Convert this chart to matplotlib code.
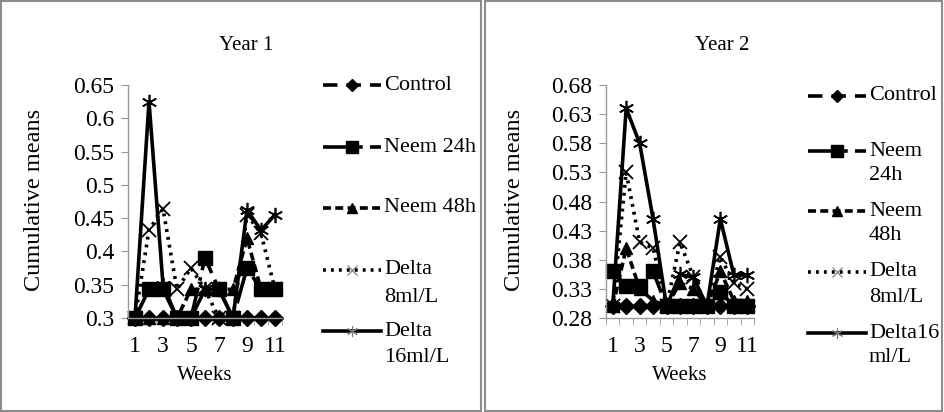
import matplotlib
matplotlib.use('Agg')
import matplotlib.pyplot as plt
from matplotlib.lines import Line2D
from matplotlib.patches import Rectangle

plt.rcParams['font.family'] = 'Liberation Serif'
plt.rcParams['font.size'] = 14

# data
weeks = [1, 2, 3, 4, 5, 6, 7, 8, 9, 10, 11]
week_labels = ['1', '3', '5', '7', '9', '11']
series = ['Control', 'Neem 24h', 'Neem 48h', 'Delta 8ml/L', 'Delta 16ml/L']
legend1 = [['Control'], ['Neem 24h'], ['Neem 48h'], ['Delta', '8ml/L'], ['Delta', '16ml/L']]
legend2 = [['Control'], ['Neem', '24h'], ['Neem', '48h'], ['Delta', '8ml/L'], ['Delta16', 'ml/L']]

y1_control = [0.3, 0.3, 0.3, 0.3, 0.3, 0.3, 0.3, 0.3, 0.3, 0.3, 0.3]
y1_neem24 = [0.3, 0.343, 0.343, 0.3, 0.3, 0.39, 0.343, 0.3, 0.375, 0.343, 0.343]
y1_neem48 = [0.3, 0.3, 0.3, 0.3, 0.343, 0.343, 0.343, 0.343, 0.42, 0.343, 0.343]
y1_delta8 = [0.3, 0.432, 0.464, 0.343, 0.375, 0.343, 0.3, 0.3, 0.455, 0.427, 0.343]
y1_delta16 = [0.3, 0.625, 0.35, 0.3, 0.3, 0.343, 0.343, 0.3, 0.462, 0.432, 0.455]

y2_control = [0.3, 0.3, 0.3, 0.3, 0.3, 0.3, 0.3, 0.3, 0.3, 0.3, 0.3]
y2_neem24 = [0.36, 0.335, 0.335, 0.36, 0.3, 0.3, 0.3, 0.3, 0.325, 0.3, 0.3]
y2_neem48 = [0.3, 0.40, 0.33, 0.31, 0.3, 0.34, 0.33, 0.3, 0.36, 0.31, 0.31]
y2_delta8 = [0.3, 0.53, 0.41, 0.40, 0.3, 0.41, 0.35, 0.3, 0.385, 0.34, 0.33]
y2_delta16 = [0.3, 0.64, 0.58, 0.45, 0.3, 0.355, 0.35, 0.3, 0.45, 0.354, 0.354]

yticks1 = [0.3, 0.35, 0.4, 0.45, 0.5, 0.55, 0.6, 0.65]
yticks2 = [0.28, 0.33, 0.38, 0.43, 0.48, 0.53, 0.58, 0.63, 0.68]

styles = [
    dict(ls=(0, (4, 2.5)), marker='D', ms=8),
    dict(ls=(0, (8, 2, 1, 2)), marker='s', ms=10),
    dict(ls=(0, (2.2, 1.2)), marker='^', ms=9),
    dict(ls=(0, (0.8, 1.4)), marker='x', ms=10, mew=1.3),
    dict(ls='-', marker=(6, 2, 0), ms=11, mew=1.2),
]
# legend keys: smaller markers, the two Delta ones thin and grey
leg_marker = [
    dict(ms=6, mec='black', mfc='black'),
    dict(ms=8, mec='black', mfc='black'),
    dict(ms=7, mec='black', mfc='black'),
    dict(ms=7, mec='#777777', mew=0.8),
    dict(ms=8, mec='#777777', mew=0.8),
]

W, H = 944, 412
fig = plt.figure(figsize=(W / 100, H / 100), dpi=100)


def fx(x):
    return x / W


def fy(y):
    return 1 - y / H


def panel(rect, data, yticks, title, title_x, ylab_x, leg_labels, leg_x, leg_y, line_dy):
    x0, y0, x1, y1 = rect
    ax = fig.add_axes([fx(x0), fy(y1), (x1 - x0) / W, (y1 - y0) / H])
    for vals, st in zip(data, styles):
        ax.plot(weeks, vals, color='black', lw=2.6, clip_on=False, **st)
    ax.set_xlim(0.5, 11.5)
    ax.set_ylim(yticks[0], yticks[-1])
    ax.set_yticks(yticks)
    ax.set_yticklabels([f'{t:g}' for t in yticks])
    ax.set_xticks([1, 3, 5, 7, 9, 11])
    ax.set_xticklabels(week_labels)
    ax.set_xticks([w + 0.5 for w in [0] + weeks], minor=True)
    ax.tick_params(axis='x', which='major', length=0, pad=13, labelsize=17)
    ax.tick_params(axis='x', which='minor', length=5, color='#999999', direction='out')
    ax.tick_params(axis='y', length=5, color='#999999', pad=5, labelsize=17)
    for s in ['top', 'right']:
        ax.spines[s].set_visible(False)
    for s in ['left', 'bottom']:
        ax.spines[s].set_color('#999999')
        ax.spines[s].set_linewidth(1)
    fig.text(fx((x0 + x1) / 2), fy(376), 'Weeks', ha='center', va='center', fontsize=15)
    fig.text(fx(ylab_x), fy(200), 'Cumulative means', rotation=90,
             ha='center', va='center', fontsize=17.5)
    fig.text(fx(title_x), fy(45), title, ha='center', va='center', fontsize=15)

    # legend keys, Excel style: key aligned with the first text line
    hx0, hx1 = leg_x, leg_x + 58
    for lines, y, st, lm in zip(leg_labels, leg_y, styles, leg_marker):
        key = Line2D([fx(hx0), fx((hx0 + hx1) / 2), fx(hx1)], [fy(y)] * 3,
                     transform=fig.transFigure, color='black', lw=2.6, ls=st['ls'],
                     marker=st['marker'], markevery=[1], **lm)
        fig.add_artist(key)
        for i, t in enumerate(lines):
            fig.text(fx(hx1 + 3), fy(y + i * line_dy), t, ha='left', va='center',
                     fontsize=16)
    return ax


panel((128, 85, 282, 318),
      [y1_control, y1_neem24, y1_neem48, y1_delta8, y1_delta16],
      yticks1, 'Year 1', 246, 35, legend1, 323, [85, 147, 208, 270, 331], 27)
panel((606, 85, 754, 318),
      [y2_control, y2_neem24, y2_neem48, y2_delta8, y2_delta16],
      yticks2, 'Year 2', 722, 515, legend2, 808, [96, 151, 211, 272, 333], 25)

fig.patches.append(Rectangle((1 / W, 1 / H), 480 / W, 410 / H, transform=fig.transFigure,
                             fill=False, ec='#8c8c8c', lw=1.5))
fig.patches.append(Rectangle((485 / W, 1 / H), 457 / W, 410 / H, transform=fig.transFigure,
                             fill=False, ec='#8c8c8c', lw=1.5))

fig.savefig('out.png', dpi=100)
